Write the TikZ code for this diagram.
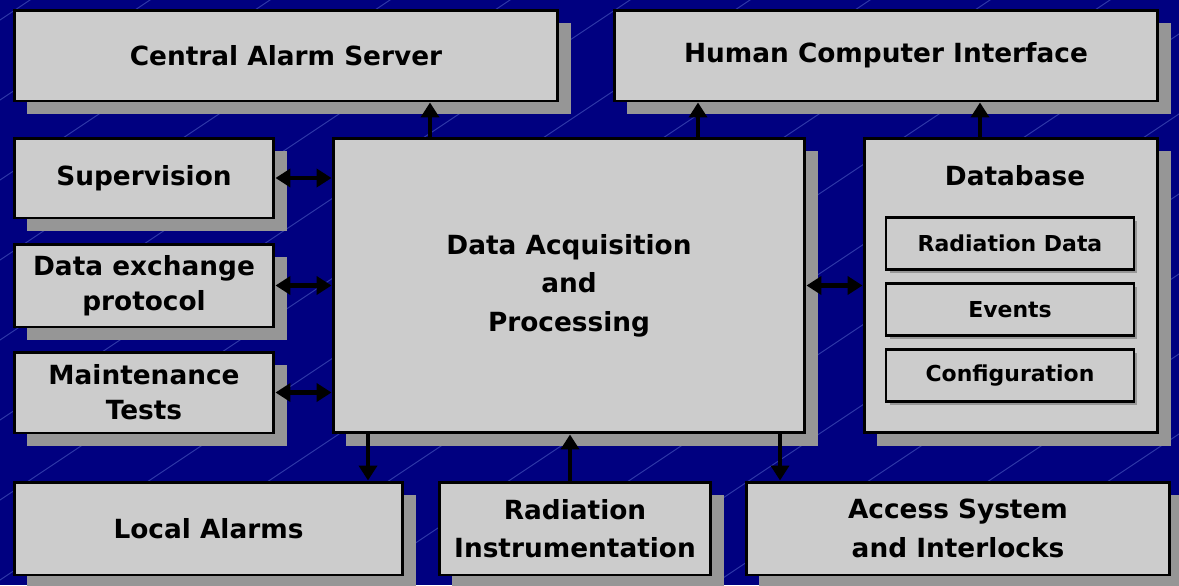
\documentclass[tikz,border=0pt]{standalone}
\usepackage{fontspec}
\setmainfont{DejaVu Sans}
\usetikzlibrary{shadows,arrows.meta}
\definecolor{fondo}{RGB}{0,0,128}
\definecolor{linfondo}{RGB}{50,60,170}
\definecolor{caja}{RGB}{204,204,204}
\definecolor{sombra}{RGB}{150,150,150}
\begin{document}
\begin{tikzpicture}[x=0.02cm, y=-0.02cm,
        % Cajas grises con sombra desplazada
        box/.style={draw=black, line width=1.7pt, fill=caja, align=center,
            font=\bfseries\fontsize{15}{20}\selectfont,
            general shadow={draw=none, fill=sombra, shadow xshift=0.26cm, shadow yshift=-0.26cm}},
        % Texto con mas interlineado
        wide/.style={font=\bfseries\fontsize{15}{22}\selectfont},
        % Cajas interiores de la base de datos
        inbox/.style={draw=black, line width=1.5pt, fill=caja, font=\bfseries\fontsize{12.5}{16}\selectfont,
            minimum width=4.96cm, minimum height=1.04cm,
            general shadow={draw=none, fill=sombra, shadow xshift=0.07cm, shadow yshift=-0.07cm}},
        % Flechas gruesas
        arr/.style={line width=2.4pt, -{Triangle[length=0.3cm, width=0.36cm]}},
        darr/.style={line width=2.4pt, {Triangle[length=0.3cm, width=0.36cm]}-{Triangle[length=0.3cm, width=0.36cm]}},
        bgline/.style={linfondo, line width=0.5pt}
    ]

        % Fondo azul con lineas diagonales
        \fill[fondo] (0,0) rectangle (1179,585);
        \useasboundingbox (0,0) rectangle (1179,585);
        \begin{scope}
            \clip (0,0) rectangle (1179,585);
            \foreach \i in {-900,-780,...,1200}
                \draw[bgline] (\i,620) -- ++(960,-640);
        \end{scope}

        % Cajas superiores
        \node[box, minimum width=10.88cm, minimum height=1.82cm] (cas) at (286,55.5) {Central Alarm Server};
        \node[box, minimum width=10.88cm, minimum height=1.82cm] (hci) at (886,55.5) {Human Computer Interface};

        % Cajas de la izquierda
        \node[box, minimum width=5.2cm, minimum height=1.6cm] (sup) at (144,178) {Supervision};
        \node[box, minimum width=5.2cm, minimum height=1.66cm] (dex) at (144,285.5) {Data exchange\\protocol};
        \node[box, minimum width=5.2cm, minimum height=1.62cm] (mnt) at (144,392.5) {Maintenance\\Tests};

        % Caja central y base de datos
        \node[box, wide, minimum width=9.44cm, minimum height=5.9cm] (dap) at (569,285.5) {Data Acquisition\\and\\Processing};
        \node[box, minimum width=5.88cm, minimum height=5.9cm] (db) at (1011,285.5) {};
        \node[font=\bfseries\fontsize{15}{20}\selectfont] (dbt) at (1015,176) {Database};
        \node[inbox] (rd) at (1010,243.5) {Radiation Data};
        \node[inbox] (ev) at (1010,309.5) {Events};
        \node[inbox] (cf) at (1010,375.5) {Configuration};

        % Cajas inferiores
        \node[box, minimum width=7.78cm, minimum height=1.86cm] (la) at (208.5,528.5) {Local Alarms};
        \node[box, wide, minimum width=5.44cm, minimum height=1.86cm] (ri) at (575,528.5) {Radiation\\Instrumentation};
        \node[box, wide, minimum width=8.48cm, minimum height=1.86cm] (acs) at (958,528.5) {Access System\\and Interlocks};

        % Posiciones de las flechas verticales
        \coordinate (p1) at (430,0);
        \coordinate (p2) at (698,0);
        \coordinate (p3) at (980,0);
        \coordinate (p4) at (368,0);
        \coordinate (p5) at (570,0);
        \coordinate (p6) at (780,0);

        % Flechas
        \draw[darr] (sup.east) -- (sup.east -| dap.west);
        \draw[darr] (dex.east) -- (dex.east -| dap.west);
        \draw[darr] (mnt.east) -- (mnt.east -| dap.west);
        \draw[darr] (dap.east) -- (db.west);
        \draw[arr] (p1 |- dap.north) -- (p1 |- cas.south);
        \draw[arr] (p2 |- dap.north) -- (p2 |- hci.south);
        \draw[arr] (p3 |- db.north) -- (p3 |- hci.south);
        \draw[arr] (p4 |- dap.south) -- (p4 |- la.north);
        \draw[arr] (p5 |- ri.north) -- (p5 |- dap.south);
        \draw[arr] (p6 |- dap.south) -- (p6 |- acs.north);

    \end{tikzpicture}
\end{document}
